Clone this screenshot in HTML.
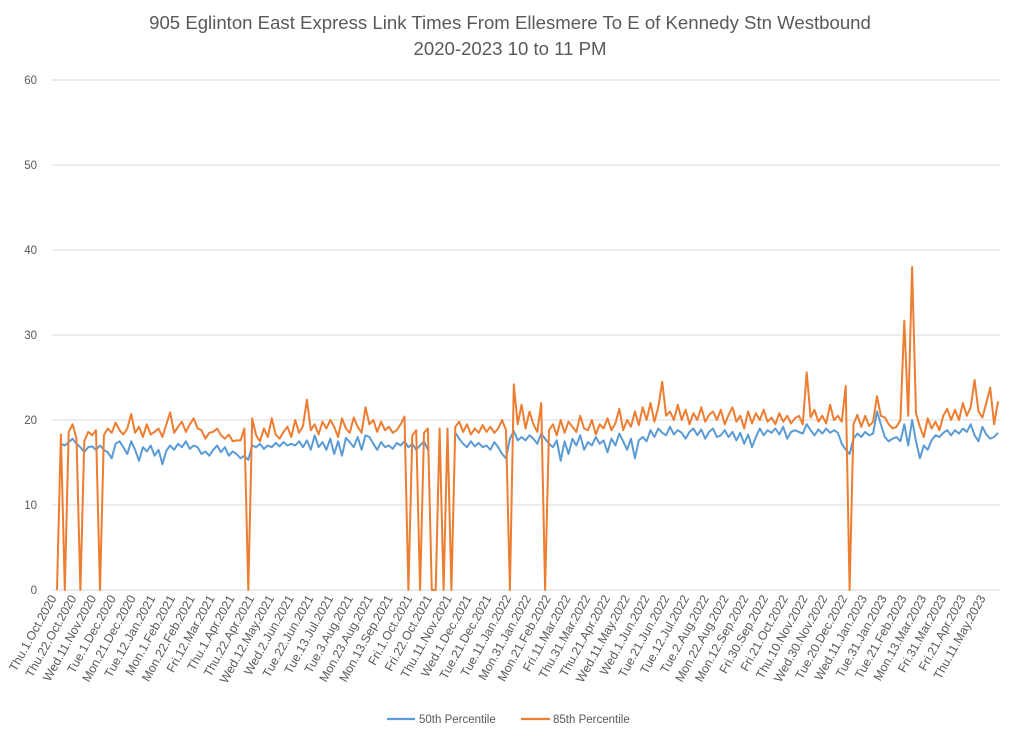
<!DOCTYPE html>
<html><head><meta charset="utf-8"><style>
body{margin:0;background:#fff;}
svg{display:block;font-family:"Liberation Sans",sans-serif;}
</style></head><body>
<svg id="chart" width="1024" height="740">
<rect x="0" y="0" width="1024" height="740" fill="#fff"/>
<text x="510" y="29" text-anchor="middle" font-size="18.6" fill="#595959">905 Eglinton East Express Link Times From Ellesmere To E of Kennedy Stn Westbound</text>
<text x="510" y="55" text-anchor="middle" font-size="18.6" fill="#595959">2020-2023 10 to 11 PM</text>
<g id="grid"></g><g id="xlabels"></g><g id="series"></g>
<g>
<line x1="387" y1="719" x2="415" y2="719" stroke="#5b9bd5" stroke-width="2.2"/>
<text x="419" y="723" font-size="11.5" fill="#595959">50th Percentile</text>
<line x1="521" y1="719" x2="550" y2="719" stroke="#ed7d31" stroke-width="2.2"/>
<text x="553" y="723" font-size="11.5" fill="#595959">85th Percentile</text>
</g>
</svg>
<script>
const yTicks=[0,10,20,30,40,50,60];
const xLabels=["Thu.1.Oct.2020","Thu.22.Oct.2020","Wed.11.Nov.2020","Tue.1.Dec.2020","Mon.21.Dec.2020","Tue.12.Jan.2021","Mon.1.Feb.2021","Mon.22.Feb.2021","Fri.12.Mar.2021","Thu.1.Apr.2021","Thu.22.Apr.2021","Wed.12.May.2021","Wed.2.Jun.2021","Tue.22.Jun.2021","Tue.13.Jul.2021","Tue.3.Aug.2021","Mon.23.Aug.2021","Mon.13.Sep.2021","Fri.1.Oct.2021","Fri.22.Oct.2021","Thu.11.Nov.2021","Wed.1.Dec.2021","Tue.21.Dec.2021","Tue.11.Jan.2022","Mon.31.Jan.2022","Mon.21.Feb.2022","Fri.11.Mar.2022","Thu.31.Mar.2022","Thu.21.Apr.2022","Wed.11.May.2022","Wed.1.Jun.2022","Tue.21.Jun.2022","Tue.12.Jul.2022","Tue.2.Aug.2022","Mon.22.Aug.2022","Mon.12.Sep.2022","Fri.30.Sep.2022","Fri.21.Oct.2022","Thu.10.Nov.2022","Wed.30.Nov.2022","Tue.20.Dec.2022","Wed.11.Jan.2023","Tue.31.Jan.2023","Tue.21.Feb.2023","Mon.13.Mar.2023","Fri.31.Mar.2023","Fri.21.Apr.2023","Thu.11.May.2023"];
const p85=[0,18.3,0,18.6,19.5,17.8,0,17.5,18.6,18.2,
18.8,0,18.2,19.0,18.5,19.7,18.8,18.3,19.0,20.7,
18.5,19.2,18.0,19.5,18.3,18.6,19.0,18.0,19.5,20.9,
18.5,19.2,19.8,18.6,19.5,20.2,19.0,18.8,17.8,18.5,
18.6,19.0,18.2,17.8,18.3,17.5,17.6,17.6,19.0,0,
20.2,18.2,17.5,19.0,18.0,20.2,18.3,17.8,18.6,19.2,
18.0,20.0,18.5,19.3,22.4,18.8,19.5,18.3,19.8,19.0,
20.0,19.2,18.0,20.2,19.0,18.5,20.3,19.2,18.5,21.5,
19.5,20.0,18.6,19.8,18.8,19.2,18.5,18.8,19.5,20.4,
0,18.2,18.8,0,18.5,19.0,0,0,19.0,0,
19.0,0,19.2,19.8,18.6,19.5,18.3,19.0,18.5,19.4,
18.6,19.2,18.5,19.0,20.0,18.8,0,24.2,19.5,21.8,
19.0,21.0,19.5,18.6,22.0,0,18.8,19.5,18.2,20.0,
18.5,19.8,19.2,18.6,20.5,19.0,18.8,20.0,18.3,19.5,
19.0,20.2,18.8,19.6,21.3,18.8,20.0,19.2,21.0,19.4,
21.5,20.0,22.0,19.8,21.5,24.5,20.5,21.0,20.0,21.8,
20.0,21.2,19.5,20.8,20.0,21.5,19.8,20.6,21.0,20.0,
21.2,19.5,20.6,21.5,19.8,20.5,19.0,21.0,19.6,20.8,
20.0,21.2,19.8,20.3,19.5,20.8,19.8,20.5,19.6,20.2,
20.5,19.5,25.6,20.3,21.2,19.8,20.5,19.6,21.8,20.0,
20.5,19.8,24.0,0,19.5,20.6,19.2,20.5,19.3,19.8,
22.8,20.5,20.3,19.5,19.0,19.2,20.0,31.7,20.5,38.0,
20.8,19.2,18.0,20.2,19.0,19.8,18.8,20.5,21.3,20.0,
21.2,20.0,22.0,20.5,21.5,24.7,21.0,20.3,22.0,23.8,
19.5,22.2];
const p50=[null,17.2,17.0,17.4,17.8,17.2,16.8,16.2,16.8,16.9,
16.5,17.0,16.5,16.2,15.5,17.2,17.5,16.8,16.0,17.5,
16.5,15.2,16.8,16.3,17.0,15.8,16.5,14.8,16.4,17.0,
16.5,17.2,16.8,17.5,16.6,17.0,16.8,16.0,16.3,15.8,
16.5,17.0,16.2,16.8,15.8,16.3,16.0,15.5,15.8,15.3,
17.0,16.8,17.2,16.6,17.0,16.8,17.3,16.9,17.4,17.0,
17.2,17.0,17.5,16.8,17.6,16.5,18.2,16.8,17.4,16.5,
17.8,16.0,17.5,15.8,17.9,17.4,16.8,18.0,16.5,18.2,
18.0,17.2,16.5,17.4,16.8,17.0,16.6,17.3,17.0,17.5,
16.8,17.2,16.5,17.0,17.5,16.5,null,null,null,null,
null,null,18.5,17.8,17.2,16.8,17.5,16.9,17.3,16.8,
17.0,16.5,17.4,16.8,16.0,15.5,17.8,18.7,17.6,18.0,
17.6,18.2,17.8,17.2,18.4,17.8,17.2,16.8,17.6,15.2,
17.5,16.0,17.8,17.0,18.2,16.5,17.4,17.0,18.0,17.2,
17.6,16.2,17.8,17.0,18.4,17.5,16.5,17.8,15.5,17.6,
18.0,17.5,18.8,18.0,19.0,18.5,18.2,19.2,18.3,18.8,
18.5,17.8,18.6,19.0,18.2,18.9,17.8,18.6,19.0,18.0,
18.2,18.8,18.0,18.6,17.6,18.5,17.2,18.3,16.8,18.0,
19.0,18.2,18.8,18.5,19.0,18.3,19.2,17.8,18.6,18.8,
18.6,18.4,19.5,18.8,18.2,18.9,18.4,19.0,18.5,18.8,
18.5,17.2,16.5,16.0,17.8,18.4,18.0,18.6,18.2,18.4,
21.0,19.5,18.0,17.5,17.8,18.0,17.5,19.5,17.0,20.0,
17.5,15.5,17.0,16.5,17.6,18.2,18.0,18.5,18.8,18.2,
18.8,18.4,19.0,18.6,19.5,18.2,17.5,19.2,18.3,17.8,
18.0,18.5];

const NS="http://www.w3.org/2000/svg";
const X0=57,X1=998,Y0=590,Y1=80,YMAX=60;
function y(v){return Y0-(v/YMAX)*(Y0-Y1);}
function xi(i,n){return X0+i*(X1-X0)/(n-1);}
function lx(i){return 53+i*(982-53)/(xLabels.length-1);}
const grid=document.getElementById('grid');
yTicks.forEach(t=>{
  const l=document.createElementNS(NS,'line');
  l.setAttribute('x1',52);l.setAttribute('x2',1000);
  l.setAttribute('y1',y(t));l.setAttribute('y2',y(t));
  l.setAttribute('stroke','#d9d9d9');l.setAttribute('stroke-width','1');
  
  
  grid.appendChild(l);
  const tx=document.createElementNS(NS,'text');
  tx.setAttribute('x',37);tx.setAttribute('y',y(t)+4);
  tx.setAttribute('text-anchor','end');tx.setAttribute('font-size','11.5');tx.setAttribute('fill','#595959');
  tx.textContent=t;
  
  
  grid.appendChild(tx);
});
const xl=document.getElementById('xlabels');
xLabels.forEach((s,i)=>{
  const tx=document.createElementNS(NS,'text');
  const x=lx(i)+4,yy=598;
  tx.setAttribute('x',x);tx.setAttribute('y',yy);
  tx.setAttribute('text-anchor','end');tx.setAttribute('font-size','12.3');tx.setAttribute('fill','#595959');
  tx.setAttribute('transform','rotate(-61 '+x+' '+yy+')');
  tx.textContent=s;
  
  
  xl.appendChild(tx);
});
function draw(arr,color,name){
  let d='',pen=false;
  arr.forEach((v,i)=>{
    if(v===null){pen=false;return;}
    d+=(pen?'L':'M')+xi(i,arr.length).toFixed(1)+' '+y(v).toFixed(1)+' ';pen=true;
  });
  const p=document.createElementNS(NS,'path');
  p.setAttribute('d',d);p.setAttribute('fill','none');p.setAttribute('stroke',color);
  p.setAttribute('stroke-width','2');p.setAttribute('stroke-linejoin','round');
  
  
  document.getElementById('series').appendChild(p);
}
draw(p50,'#5b9bd5','series-50th-percentile');
draw(p85,'#ed7d31','series-85th-percentile');
</script>
</body></html>
